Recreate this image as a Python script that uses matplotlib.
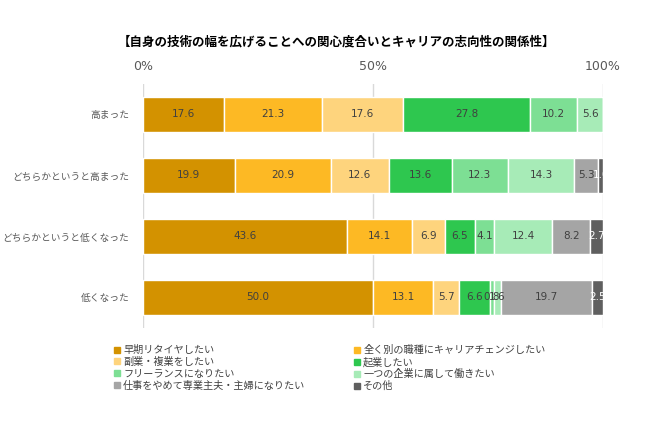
import numpy as np
import matplotlib.pyplot as plt
from matplotlib.lines import Line2D

plt.rcParams['font.family'] = ['Noto Sans CJK JP', 'DejaVu Sans']

# データ
rows = ["高まった", "どちらかというと高まった", "どちらかというと低くなった", "低くなった"]
series = ["早期リタイヤしたい", "全く別の職種にキャリアチェンジしたい", "副業・複業をしたい", "起業したい",
          "フリーランスになりたい", "一つの企業に属して働きたい", "仕事をやめて専業主夫・主婦になりたい", "その他"]
values = np.array([
    [17.6, 21.3, 17.6, 27.8, 10.2, 5.6, 0.0, 0.0],
    [19.9, 20.9, 12.6, 13.6, 12.3, 14.3, 5.3, 1.0],
    [43.6, 14.1, 6.9, 6.5, 4.1, 12.4, 8.2, 2.7],
    [50.0, 13.1, 5.7, 6.6, 0.8, 1.6, 19.7, 2.5],
])
colors = ["#D39200", "#FDB924", "#FED47D", "#2EC74F", "#7DDF94", "#A7EBB7", "#A5A5A5", "#5F5F5F"]
text_colors = ["#404040"] * 7 + ["#FFFFFF"]

# 各行を100%に正規化
widths = values / values.sum(axis=1, keepdims=True) * 100

fig = plt.figure(figsize=(6.5, 4.45), dpi=100)
ax = fig.add_axes([143 / 650, 1 - 328 / 445, 460 / 650, 244 / 445])

y = np.arange(len(rows))
left = np.zeros(len(rows))
for j in range(len(series)):
    w = widths[:, j]
    ax.barh(y, w, left=left, height=0.56, color=colors[j], edgecolor="white", linewidth=1, zorder=2)
    for i in range(len(rows)):
        if values[i, j] > 0:
            ax.text(left[i] + w[i] / 2, y[i], f"{values[i, j]:.1f}", ha="center", va="center",
                    fontsize=7.5, color=text_colors[j], family=['DejaVu Sans'], zorder=3)
    left += w

ax.set_xlim(0, 100)
ax.set_ylim(3.5, -0.5)
ax.set_yticks(y)
ax.set_yticklabels(rows, fontsize=7, color="#595959")
ax.set_xticks([0, 50, 100])
ax.set_xticklabels(["0%", "50%", "100%"], fontsize=9, color="#595959", family=['DejaVu Sans'])
ax.xaxis.tick_top()
ax.tick_params(axis="x", length=0, pad=8)
ax.tick_params(axis="y", length=0, pad=10)
ax.grid(axis="x", color="#D9D9D9", linewidth=1, zorder=0)
for s in ax.spines.values():
    s.set_visible(False)

fig.text(337 / 650, 1 - 42 / 445, "【自身の技術の幅を広げることへの関心度合いとキャリアの志向性の関係性】",
         ha="center", va="center", fontsize=9, fontweight="bold", color="#000000")

handles = [Line2D([], [], marker="s", linestyle="none", markersize=4.5, color=c) for c in colors]
order = [0, 2, 4, 6, 1, 3, 5, 7]
leg = fig.legend([handles[k] for k in order], [series[k] for k in order], ncol=2,
                 loc="upper left", bbox_to_anchor=(114 / 650, 1 - 345 / 445), frameon=False,
                 fontsize=7.3, handlelength=0.6, handletextpad=0.3, labelspacing=0.18,
                 columnspacing=4.8, borderaxespad=0, borderpad=0)
for t in leg.get_texts():
    t.set_color("#404040")

fig.savefig("out.png", dpi=100)
